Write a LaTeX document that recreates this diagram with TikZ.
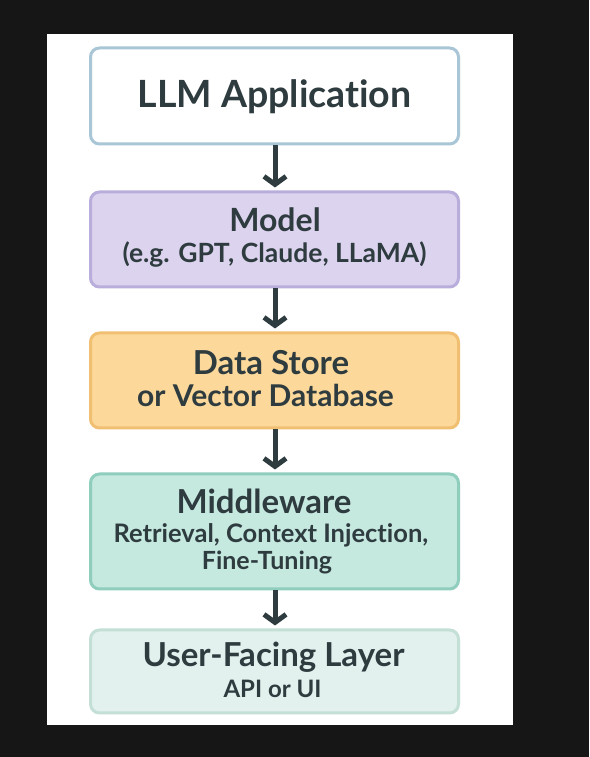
\documentclass[tikz,border=0pt]{standalone}
\usepackage{fontspec}
\setmainfont[Ligatures={NoCommon}]{Lato}
\usetikzlibrary{arrows.meta}
\definecolor{bgdark}{HTML}{161616}
\definecolor{txt}{HTML}{2E3B3F}
\definecolor{f1}{HTML}{FFFFFF}\definecolor{d1}{HTML}{A9C6D6}
\definecolor{f2}{HTML}{DCD3EE}\definecolor{d2}{HTML}{B9AEDB}
\definecolor{f3}{HTML}{FCD99B}\definecolor{d3}{HTML}{F1BF72}
\definecolor{f4}{HTML}{C5E8DF}\definecolor{d4}{HTML}{8FCDBD}
\definecolor{f5}{HTML}{E2F1ED}\definecolor{d5}{HTML}{C4DFD6}
\tikzset{
  layer/.style={rectangle, rounded corners=9pt, line width=3pt, minimum width=368pt, inner sep=0pt},
  lbl/.style={anchor=base, text=txt, font=\bfseries, inner sep=0pt},
  arr/.style={draw=txt, line width=5pt, shorten >=3pt, -{Straight Barb[length=8pt,width=22pt,line width=5pt]}}
}
\begin{document}
\begin{tikzpicture}[x=1pt,y=1pt]
\fill[bgdark] (0,0) rectangle (589,757);
\fill[white] (47,32) rectangle (513,723);
% boxes (y = 757 - pixel y)
\node[layer, fill=f1, draw=d1, minimum height=96pt] (b1) at (274.5,661) {};
\node[layer, fill=f2, draw=d2, minimum height=95pt] (b2) at (274.5,517.5) {};
\node[layer, fill=f3, draw=d3, minimum height=95pt] (b3) at (274.5,376.5) {};
\node[layer, fill=f4, draw=d4, minimum height=115pt] (b4) at (274.5,225.5) {};
\node[layer, fill=f5, draw=d5, minimum height=83pt] (b5) at (274.5,85.5) {};
% texts
\node[lbl, font=\bfseries\fontsize{37.5}{40}\selectfont] (t1) at (274.5,649) {LLM Application};
\node[lbl, font=\bfseries\fontsize{32}{36}\selectfont] (t2a) at (275,525) {Model};
\node[lbl, font=\bfseries\fontsize{26.5}{30}\selectfont] (t2b) at (274.5,494) {(e.g. GPT, Claude, LLaMA)};
\node[lbl, font=\bfseries\fontsize{33}{36}\selectfont] (t3a) at (271,382) {Data Store};
\node[lbl, font=\bfseries\fontsize{30}{34}\selectfont] (t3b) at (265.5,350) {or Vector Database};
\node[lbl, font=\bfseries\fontsize{33}{36}\selectfont] (t4a) at (264,243) {Middleware};
\node[lbl, font=\bfseries\fontsize{25.5}{28}\selectfont] (t4b) at (271,214) {Retrieval, Context Injection,};
\node[lbl, font=\bfseries\fontsize{25}{28}\selectfont] (t4c) at (267,187) {Fine-Tuning};
\node[lbl, font=\bfseries\fontsize{33}{36}\selectfont] (t5a) at (273.5,90) {User-Facing Layer};
\node[lbl, font=\bfseries\fontsize{24}{28}\selectfont] (t5b) at (272.5,59) {API or UI};
% arrows
\draw[arr] (b1.south -| 275,0) -- (b2.north -| 275,0);
\draw[arr] (b2.south -| 275,0) -- (b3.north -| 275,0);
\draw[arr] (b3.south -| 275,0) -- (b4.north -| 275,0);
\draw[arr] (b4.south -| 275,0) -- (b5.north -| 275,0);
\end{tikzpicture}
\end{document}
